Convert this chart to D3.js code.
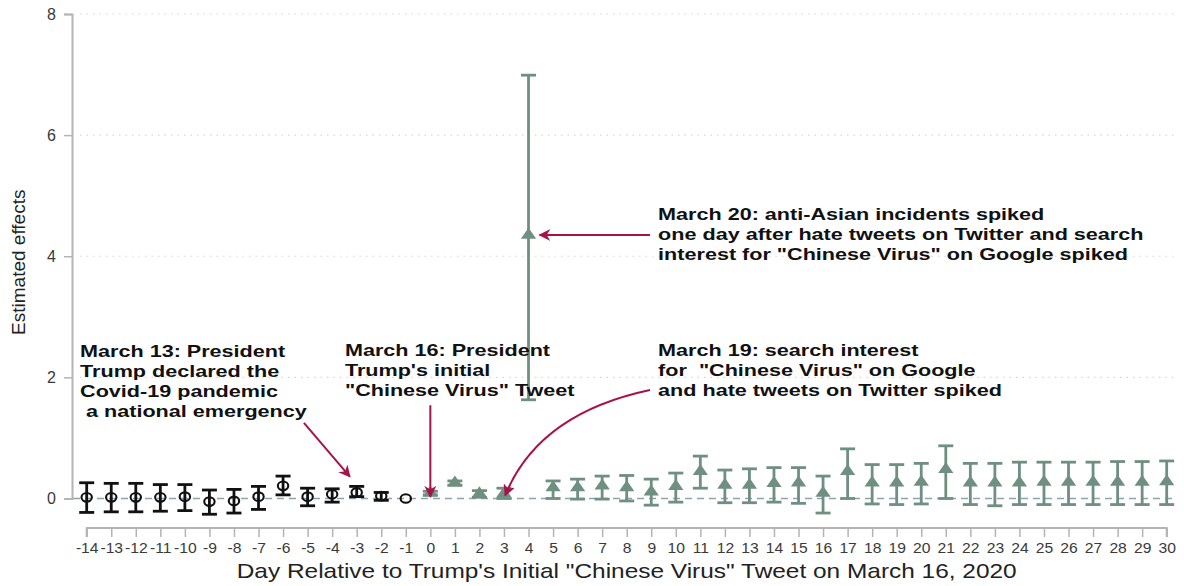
<!DOCTYPE html>
<html>
<head>
<meta charset="utf-8">
<script src="https://cdn.jsdelivr.net/npm/d3@7"></script>
<style>
  html, body { margin: 0; padding: 0; background: #fff; }
  svg { display: block; font-family: "Liberation Sans", Arial, sans-serif; }
</style>
</head>
<body>
<svg id="chart" width="1184" height="586"></svg>
<script>
// Event-study estimates: days relative to the initial tweet, point estimate and 95% CI
const preDays  = [-14, -13, -12, -11, -10, -9, -8, -7, -6, -5, -4, -3, -2, -1];
const preEst   = [0.02, 0.02, 0.02, 0.02, 0.03, -0.05, -0.04, 0.03, 0.21, 0.03, 0.07, 0.10, 0.04, 0];
const preLow   = [-0.23, -0.22, -0.22, -0.21, -0.20, -0.26, -0.24, -0.18, 0.06, -0.12, -0.06, 0.03, -0.03, 0];
const preHigh  = [0.26, 0.25, 0.25, 0.23, 0.23, 0.14, 0.15, 0.20, 0.37, 0.17, 0.16, 0.20, 0.10, 0];

const postDays = [0, 1, 2, 3, 4, 5, 6, 7, 8, 9, 10, 11, 12, 13, 14, 15, 16, 17, 18, 19, 20, 21, 22, 23, 24, 25, 26, 27, 28, 29, 30];
const postEst  = [0.09, 0.26, 0.08, 0.08, 4.35, 0.18, 0.18, 0.21, 0.18, 0.11, 0.20, 0.45, 0.22, 0.22, 0.25, 0.26, 0.09, 0.45, 0.26, 0.26, 0.27, 0.48, 0.26, 0.26, 0.26, 0.27, 0.27, 0.27, 0.27, 0.27, 0.28];
const postLow  = [0.06, 0.22, 0.02, 0.00, 1.63, 0.00, -0.01, -0.01, -0.04, -0.11, -0.06, 0.17, -0.07, -0.07, -0.06, -0.08, -0.24, 0.00, -0.09, -0.10, -0.09, 0.00, -0.10, -0.12, -0.10, -0.10, -0.10, -0.10, -0.10, -0.10, -0.10];
const postHigh = [0.12, 0.29, 0.13, 0.17, 6.99, 0.29, 0.32, 0.37, 0.38, 0.32, 0.42, 0.70, 0.47, 0.49, 0.51, 0.51, 0.37, 0.82, 0.56, 0.56, 0.58, 0.87, 0.58, 0.58, 0.60, 0.60, 0.60, 0.60, 0.61, 0.61, 0.62];

const xTicks = d3.range(-14, 31);
const yTicks = [0, 2, 4, 6, 8];
const yGrid  = [2, 4, 6, 8];

const xTitle = "Day Relative to Trump's Initial \"Chinese Virus\" Tweet on March 16, 2020";
const yTitle = "Estimated effects";

// Annotation text blocks (anchor in data units: day, effect)
const notes = [
  { day: -14.27, val: 2.34, lines: ["March 13: President", "Trump declared the", "Covid-19 pandemic", " a national emergency"] },
  { day: -3.48,  val: 2.35, lines: ["March 16: President", "Trump's initial", "\"Chinese Virus\" Tweet"] },
  { day: 9.28,   val: 2.35, lines: ["March 19: search interest", "for  \"Chinese Virus\" on Google", "and hate tweets on Twitter spiked"] },
  { day: 9.28,   val: 4.60, lines: ["March 20: anti-Asian incidents spiked", "one day after hate tweets on Twitter and search", "interest for \"Chinese Virus\" on Google spiked"] }
];
// Arrows in data units: start, (optional control point), tip
const arrows = [
  { from: [-5.15, 1.25], to: [-3.28, 0.36] },
  { from: [0.0, 1.54],   to: [0.0, 0.03] },
  { from: [8.95, 1.79],  ctrl: [4.4, 1.40], to: [3.05, 0.05] },
  { from: [8.95, 4.35],  to: [4.45, 4.35] }
];

const svg = d3.select("#chart");
const x = d3.scaleLinear().domain([-14, 30]).range([86.7, 1166.7]);
const y = d3.scaleLinear().domain([0, 8]).range([498.5, 14]);

const green = "#6f8f80";
const crimson = "#a8124a";
const axisGrey = "#b4b4b4";
const plain = d => String(d);   // hyphen-minus, as in the printed labels

// Horizontal dotted gridlines
svg.append("g").selectAll("line").data(yGrid).join("line")
  .attr("x1", 80).attr("x2", 1176)
  .attr("y1", d => y(d)).attr("y2", d => y(d))
  .attr("stroke", "#d6d6d6").attr("stroke-width", 1.2)
  .attr("stroke-dasharray", "1.5,5");

// Zero reference line
svg.append("line")
  .attr("x1", 73).attr("x2", 1176)
  .attr("y1", y(0)).attr("y2", y(0))
  .attr("stroke", "#8da2b3").attr("stroke-width", 1.4)
  .attr("stroke-dasharray", "7,5");

// Y axis
const yAxis = d3.axisLeft(y).tickValues(yTicks).tickSize(8).tickPadding(8).tickFormat(plain);
const gy = svg.append("g").attr("transform", "translate(72,0)").call(yAxis);
gy.select(".domain").attr("stroke", axisGrey).attr("stroke-width", 2);
gy.selectAll(".tick line").attr("stroke", axisGrey).attr("stroke-width", 1.5);
gy.selectAll(".tick text").attr("fill", "#3a3a3a").style("font-size", "16px")
  .style("font-family", "'Liberation Sans', Arial, sans-serif");

// X axis
const xAxis = d3.axisBottom(x).tickValues(xTicks).tickSize(9).tickPadding(6).tickFormat(plain);
const gx = svg.append("g").attr("transform", "translate(0,528)").call(xAxis);
gx.select(".domain").attr("stroke", axisGrey).attr("stroke-width", 2).attr("d", `M${x(-14)},9V0H${x(30)}V9`);
gx.selectAll(".tick line").attr("stroke", axisGrey).attr("stroke-width", 1.5);
gx.selectAll(".tick text").attr("fill", "#3a3a3a").style("font-size", "14px")
  .style("font-family", "'Liberation Sans', Arial, sans-serif")
  .attr("transform", "scale(1.12,1)");

// Axis titles
svg.append("text")
  .attr("x", x(8)).attr("y", 578)
  .attr("text-anchor", "middle")
  .style("font-size", "21px").attr("fill", "#222")
  .attr("textLength", 780).attr("lengthAdjust", "spacingAndGlyphs")
  .text(xTitle);
svg.append("text")
  .attr("transform", `translate(25,${y(4) + 6}) rotate(-90)`)
  .attr("text-anchor", "middle")
  .style("font-size", "19px").attr("fill", "#222")
  .text(yTitle);

// Error bars + markers
function drawSeries(days, est, low, high, color, isPre) {
  const g = svg.append("g");
  const rows = days.map((d, i) => ({ d, e: est[i], lo: low[i], hi: high[i] }));
  const withBars = rows.filter(r => r.hi !== r.lo);
  g.selectAll("line.v").data(withBars).join("line")
    .attr("x1", r => x(r.d)).attr("x2", r => x(r.d))
    .attr("y1", r => y(r.lo)).attr("y2", r => y(r.hi))
    .attr("stroke", color).attr("stroke-width", 2.8);
  ["lo", "hi"].forEach(k => {
    g.selectAll("line.c" + k).data(withBars).join("line")
      .attr("x1", r => x(r.d) - 7.5).attr("x2", r => x(r.d) + 7.5)
      .attr("y1", r => y(r[k])).attr("y2", r => y(r[k]))
      .attr("stroke", color).attr("stroke-width", 2.8);
  });
  if (isPre) {
    g.selectAll("ellipse").data(rows).join("ellipse")
      .attr("cx", r => x(r.d)).attr("cy", r => y(r.e)).attr("rx", 5.2).attr("ry", 4.3)
      .attr("fill", "none").attr("stroke", color).attr("stroke-width", 2.1);
  } else {
    const tri = d3.symbol().type(d3.symbolTriangle).size(70);
    g.selectAll("path").data(rows).join("path")
      .attr("d", tri)
      .attr("transform", r => `translate(${x(r.d)},${y(r.e)}) scale(1.2,1)`)
      .attr("fill", color);
  }
}
drawSeries(preDays, preEst, preLow, preHigh, "#111", true);
drawSeries(postDays, postEst, postLow, postHigh, green, false);

// Annotation text
const gn = svg.append("g").style("font-weight", "bold").style("font-size", "17px").attr("fill", "#111");
notes.forEach(n => {
  const t = gn.append("text")
    .attr("transform", `translate(${x(n.day)},${y(n.val)}) scale(1.27,1)`)
    .attr("xml:space", "preserve");
  n.lines.forEach((l, i) => {
    t.append("tspan").attr("x", 0).attr("dy", i === 0 ? 0 : 20).text(l);
  });
});

// Arrows
svg.append("defs").append("marker")
  .attr("id", "head").attr("viewBox", "0 0 10 10").attr("refX", 9).attr("refY", 5)
  .attr("markerWidth", 6).attr("markerHeight", 6).attr("orient", "auto-start-reverse")
  .attr("markerUnits", "strokeWidth")
  .append("path").attr("d", "M0,0 L10,5 L0,10 L3,5 Z").attr("fill", crimson);

svg.append("g").selectAll("path").data(arrows).join("path")
  .attr("d", a => {
    const p = d3.path();
    p.moveTo(x(a.from[0]), y(a.from[1]));
    if (a.ctrl) p.quadraticCurveTo(x(a.ctrl[0]), y(a.ctrl[1]), x(a.to[0]), y(a.to[1]));
    else p.lineTo(x(a.to[0]), y(a.to[1]));
    return p.toString();
  })
  .attr("fill", "none").attr("stroke", crimson).attr("stroke-width", 2)
  .attr("marker-end", "url(#head)");
</script>
</body>
</html>
